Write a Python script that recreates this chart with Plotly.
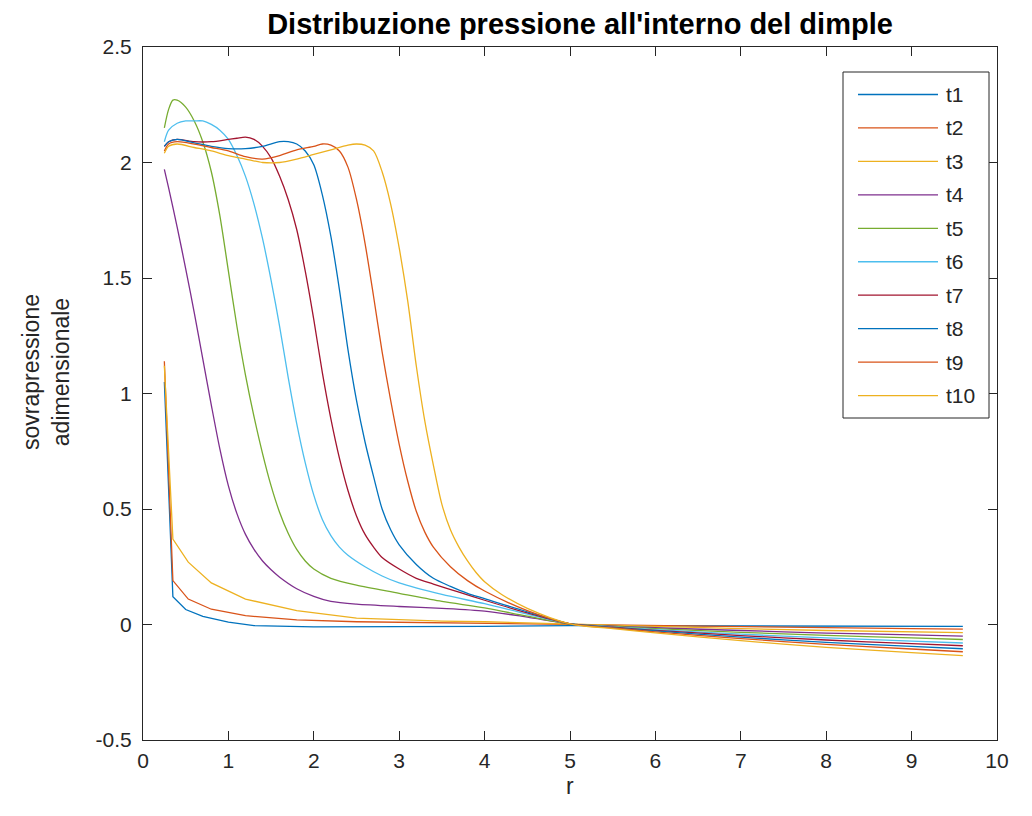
import plotly.graph_objects as go

# Pressure profiles inside the dimple at ten instants (r = radial coordinate)
series_names = ["t1", "t2", "t3", "t4", "t5", "t6", "t7", "t8", "t9", "t10"]
series_colors = ["#0072BD", "#D95319", "#EDB120", "#7E2F8E", "#77AC30",
                 "#4DBEEE", "#A2142F", "#0072BD", "#D95319", "#EDB120"]

r_t1 = [0.25, 0.35, 0.5, 0.7, 1.0, 1.3, 2.0, 3.0, 4.0, 5.0, 7.0, 9.6]
p_t1 = [1.05, 0.12, 0.065, 0.035, 0.01, -0.005, -0.01, -0.01, -0.008, -0.005, -0.006, -0.008]

r_t2 = [0.25, 0.35, 0.53, 0.8, 1.2, 1.8, 2.5, 3.5, 4.5, 5.0, 6.0, 7.0, 8.0, 9.0, 9.6]
p_t2 = [1.14, 0.19, 0.11, 0.066, 0.038, 0.02, 0.012, 0.007, 0.003, 0.0, -0.006, -0.011, -0.015, -0.018, -0.02]

r_t3 = [0.25, 0.35, 0.53, 0.8, 1.2, 1.8, 2.5, 3.0, 3.5, 4.0, 4.5, 5.0, 6.0, 7.0, 8.0, 9.0, 9.6]
p_t3 = [1.12, 0.37, 0.27, 0.18, 0.11, 0.06, 0.028, 0.02, 0.015, 0.012, 0.007, 0.0, -0.01, -0.018, -0.026, -0.032, -0.035]

r_t4 = [0.25, 0.3, 0.4, 0.5, 0.6, 0.7, 0.8, 0.9, 1.0, 1.1, 1.2, 1.3, 1.4, 1.5, 1.6, 1.8, 2.0, 2.2,
        2.5, 3.0, 3.5, 4.0, 4.5, 5.0, 5.5, 6.0, 7.0, 8.0, 9.0, 9.6]
p_t4 = [1.97, 1.89, 1.72, 1.54, 1.35, 1.15, 0.95, 0.76, 0.60, 0.48, 0.39, 0.325, 0.275, 0.237, 0.205, 0.155, 0.122, 0.10,
        0.088, 0.078, 0.07, 0.058, 0.032, 0.003, -0.007, -0.014, -0.026, -0.037, -0.045, -0.05]

r_t5 = [0.25, 0.3, 0.35, 0.4, 0.5, 0.6, 0.7, 0.8, 0.9, 1.0, 1.1, 1.2, 1.3, 1.4, 1.5, 1.6, 1.7, 1.8, 1.9,
        2.0, 2.2, 2.5, 3.0, 3.5, 4.0, 4.5, 5.0, 5.5, 6.0, 7.0, 8.0, 9.0, 9.6]
p_t5 = [2.15, 2.23, 2.27, 2.27, 2.24, 2.18, 2.09, 1.96, 1.77, 1.53, 1.29, 1.08, 0.90, 0.74, 0.60, 0.485, 0.395, 0.325, 0.275,
        0.24, 0.20, 0.17, 0.135, 0.10, 0.072, 0.036, 0.003, -0.008, -0.018, -0.034, -0.047, -0.058, -0.065]

r_t6 = [0.25, 0.3, 0.4, 0.5, 0.6, 0.7, 0.8, 0.9, 1.0, 1.1, 1.2, 1.3, 1.4, 1.5, 1.6, 1.7, 1.8, 1.9, 2.0,
        2.1, 2.2, 2.3, 2.4, 2.6, 2.8, 3.0, 3.5, 4.0, 4.5, 5.0, 5.5, 6.0, 7.0, 8.0, 9.0, 9.6]
p_t6 = [2.09, 2.14, 2.17, 2.18, 2.18, 2.18, 2.165, 2.14, 2.10, 2.03, 1.94, 1.82, 1.67, 1.49, 1.29, 1.07, 0.87, 0.70, 0.56,
        0.455, 0.385, 0.335, 0.30, 0.25, 0.21, 0.18, 0.13, 0.09, 0.045, 0.003, -0.01, -0.022, -0.042, -0.058, -0.072, -0.08]

r_t7 = [0.25, 0.3, 0.4, 0.6, 0.8, 1.0, 1.1, 1.2, 1.3, 1.4, 1.5, 1.6, 1.7, 1.8, 1.9, 2.0, 2.1, 2.2, 2.3,
        2.4, 2.5, 2.6, 2.7, 2.8, 3.0, 3.2, 3.4, 3.7, 4.0, 4.5, 5.0, 5.5, 6.0, 7.0, 8.0, 9.0, 9.6]
p_t7 = [2.07, 2.09, 2.10, 2.09, 2.09, 2.10, 2.105, 2.11, 2.10, 2.07, 2.02, 1.94, 1.84, 1.71, 1.53, 1.32, 1.09, 0.89, 0.72,
        0.58, 0.47, 0.39, 0.335, 0.29, 0.24, 0.20, 0.175, 0.14, 0.105, 0.05, 0.003, -0.012, -0.025, -0.048, -0.067, -0.083, -0.092]

r_t8 = [0.25, 0.3, 0.4, 0.6, 0.8, 1.0, 1.2, 1.4, 1.6, 1.7, 1.8, 1.9, 2.0, 2.1, 2.2, 2.3, 2.4, 2.5, 2.6,
        2.7, 2.8, 2.9, 3.0, 3.2, 3.4, 3.6, 3.8, 4.0, 4.5, 5.0, 5.5, 6.0, 7.0, 8.0, 9.0, 9.6]
p_t8 = [2.07, 2.09, 2.10, 2.085, 2.07, 2.06, 2.06, 2.07, 2.09, 2.09, 2.08, 2.05, 1.99, 1.86, 1.68, 1.45, 1.19, 0.97, 0.79,
        0.64, 0.50, 0.41, 0.345, 0.26, 0.20, 0.165, 0.135, 0.112, 0.055, 0.003, -0.014, -0.028, -0.055, -0.077, -0.095, -0.105]

r_t9 = [0.25, 0.3, 0.4, 0.6, 0.8, 1.0, 1.2, 1.4, 1.6, 1.8, 2.0, 2.1, 2.2, 2.3, 2.4, 2.5, 2.6, 2.7, 2.8,
        2.9, 3.0, 3.1, 3.2, 3.3, 3.4, 3.6, 3.8, 4.0, 4.5, 5.0, 5.5, 6.0, 7.0, 8.0, 9.0, 9.6]
p_t9 = [2.05, 2.08, 2.09, 2.08, 2.065, 2.05, 2.025, 2.015, 2.03, 2.055, 2.07, 2.08, 2.075, 2.05, 1.98, 1.84, 1.65, 1.42, 1.18,
        0.97, 0.78, 0.62, 0.49, 0.40, 0.335, 0.25, 0.19, 0.145, 0.06, 0.003, -0.015, -0.032, -0.061, -0.086, -0.106, -0.118]

r_t10 = [0.25, 0.3, 0.4, 0.6, 0.8, 1.0, 1.2, 1.4, 1.6, 1.8, 2.0, 2.2, 2.4, 2.5, 2.6, 2.7, 2.8, 2.9, 3.0,
         3.1, 3.2, 3.3, 3.4, 3.5, 3.6, 3.7, 3.8, 3.9, 4.0, 4.2, 4.5, 5.0, 5.5, 6.0, 7.0, 8.0, 9.0, 9.6]
p_t10 = [2.04, 2.07, 2.08, 2.065, 2.05, 2.03, 2.015, 2.0, 2.0, 2.015, 2.035, 2.055, 2.075, 2.08, 2.075, 2.05, 1.96, 1.82, 1.63,
         1.40, 1.12, 0.88, 0.69, 0.52, 0.41, 0.335, 0.275, 0.225, 0.185, 0.13, 0.07, 0.003, -0.018, -0.036, -0.07, -0.099, -0.122, -0.135]

r_series = [r_t1, r_t2, r_t3, r_t4, r_t5, r_t6, r_t7, r_t8, r_t9, r_t10]
p_series = [p_t1, p_t2, p_t3, p_t4, p_t5, p_t6, p_t7, p_t8, p_t9, p_t10]

x_ticks = [0, 1, 2, 3, 4, 5, 6, 7, 8, 9, 10]
y_ticks = [-0.5, 0, 0.5, 1, 1.5, 2, 2.5]
y_tick_text = ["-0.5", "0", "0.5", "1", "1.5", "2", "2.5"]

FONT = "Liberation Sans"
INK = "#262626"
W, H = 1032, 816
ML, MR, MT, MB = 143, 35, 47, 76
PW, PH = W - ML - MR, H - MT - MB

fig = go.Figure()
for i, (name, col) in enumerate(zip(series_names, series_colors)):
    shape = "linear" if i < 3 else "spline"
    fig.add_trace(go.Scatter(
        x=r_series[i], y=p_series[i], mode="lines", name=name,
        line=dict(color=col, width=1.3, shape=shape, smoothing=0.8),
        showlegend=False,
    ))


def px_to_paper_x(px):
    return (px - ML) / PW


def px_to_paper_y(py):
    return 1 - (py - MT) / PH


# Boxed legend in the upper-right corner
shapes = [dict(type="rect", xref="paper", yref="paper",
               x0=px_to_paper_x(843), x1=px_to_paper_x(989),
               y0=px_to_paper_y(418), y1=px_to_paper_y(72),
               line=dict(color=INK, width=1), fillcolor="white", layer="above")]
annotations = []
for i, (name, col) in enumerate(zip(series_names, series_colors)):
    ypx = 94.5 + i * 33.45
    shapes.append(dict(type="line", xref="paper", yref="paper",
                       x0=px_to_paper_x(858), x1=px_to_paper_x(938),
                       y0=px_to_paper_y(ypx), y1=px_to_paper_y(ypx),
                       line=dict(color=col, width=1.3), layer="above"))
    annotations.append(dict(xref="paper", yref="paper", x=px_to_paper_x(944),
                            y=px_to_paper_y(ypx), text=name, showarrow=False,
                            xanchor="left", yanchor="middle",
                            font=dict(family=FONT, size=21, color=INK)))

# Two-line vertical axis label
annotations.append(dict(xref="paper", yref="paper", x=px_to_paper_x(46), y=px_to_paper_y(372),
                        text="sovrapressione<br>adimensionale", showarrow=False,
                        textangle=-90, xanchor="center", yanchor="middle",
                        font=dict(family=FONT, size=23, color=INK)))
# Horizontal axis label
annotations.append(dict(xref="paper", yref="paper", x=px_to_paper_x(570), y=px_to_paper_y(786),
                        text="r", showarrow=False, xanchor="center", yanchor="middle",
                        font=dict(family=FONT, size=23, color=INK)))

fig.update_layout(
    width=W, height=H,
    margin=dict(l=ML, r=MR, t=MT, b=MB, autoexpand=False),
    paper_bgcolor="white", plot_bgcolor="white",
    title=dict(text="<b>Distribuzione pressione all'interno del dimple</b>",
               x=px_to_paper_x(580), xref="paper", xanchor="center",
               y=1 - 24 / H, yref="container", yanchor="middle",
               font=dict(family=FONT, size=29, color="black")),
    shapes=shapes, annotations=annotations,
    font=dict(family=FONT, color=INK),
)
fig.update_xaxes(range=[0, 10], tickvals=x_ticks, ticks="inside", ticklen=9,
                 tickcolor=INK, showline=True, linecolor=INK, linewidth=1,
                 mirror="ticks", showgrid=False, zeroline=False,
                 ticklabelstandoff=2,
                 tickfont=dict(family=FONT, size=21, color=INK))
fig.update_yaxes(range=[-0.5, 2.5], tickvals=y_ticks, ticktext=y_tick_text,
                 ticks="inside", ticklen=9, tickcolor=INK, showline=True,
                 linecolor=INK, linewidth=1, mirror="ticks", showgrid=False,
                 zeroline=False, ticklabelstandoff=6,
                 tickfont=dict(family=FONT, size=21, color=INK))

fig.write_html("out.html")
